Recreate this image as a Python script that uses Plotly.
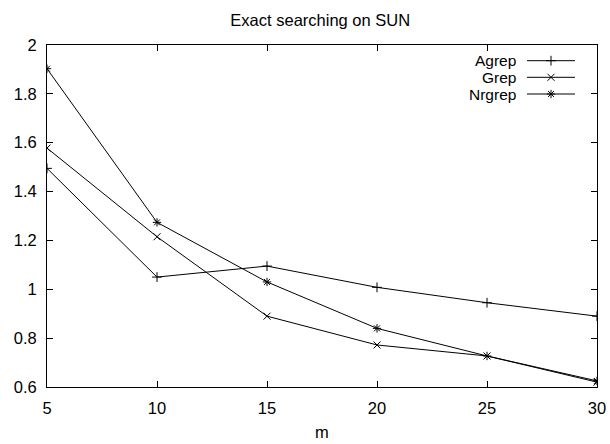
import plotly.graph_objects as go

m = [5, 10, 15, 20, 25, 30]
agrep = [1.495, 1.05, 1.095, 1.008, 0.945, 0.89]
grep = [1.578, 1.215, 0.89, 0.772, 0.727, 0.62]
nrgrep = [1.903, 1.274, 1.03, 0.84, 0.727, 0.625]

names = ["Agrep", "Grep", "Nrgrep"]
series = [agrep, grep, nrgrep]
symbols = ["cross-thin-open", "x-thin-open", "asterisk-open"]

FONT = "Liberation Sans, Arial, Helvetica, sans-serif"
FS = 16.5

fig = go.Figure()
for n, s, sym in zip(names, series, symbols):
    fig.add_trace(go.Scatter(
        x=m, y=s, mode="lines+markers", name=n,
        line=dict(color="black", width=1),
        marker=dict(symbol=sym, size=7, color="black", line=dict(color="black", width=1)),
        showlegend=False,
    ))

# gnuplot-style key (text then line sample), drawn on an overlay pixel-like axis
key_y = [60.7, 77.3, 94]
for n, sym, ky in zip(names, symbols, key_y):
    fig.add_trace(go.Scatter(
        x=[527, 575], y=[ky, ky], mode="lines", xaxis="x2", yaxis="y2",
        line=dict(color="black", width=1), showlegend=False, hoverinfo="skip",
    ))
    fig.add_trace(go.Scatter(
        x=[551], y=[ky], mode="markers", xaxis="x2", yaxis="y2",
        marker=dict(symbol=sym, size=7, color="black", line=dict(color="black", width=1)),
        showlegend=False, hoverinfo="skip",
    ))
    fig.add_annotation(x=517, y=ky, xref="x2", yref="y2", text=n, showarrow=False,
                       xanchor="right", yanchor="middle", borderpad=0,
                       font=dict(family=FONT, size=15.5, color="black"))

axis_common = dict(
    showline=True, linecolor="black", linewidth=1, mirror="ticks",
    ticks="inside", ticklen=6, tickcolor="black", tickwidth=1,
    showgrid=False, zeroline=False, automargin=False,
    tickfont=dict(family=FONT, size=FS, color="black"),
)

fig.update_layout(
    width=610, height=444,
    margin=dict(l=47, r=13, t=45, b=57),
    paper_bgcolor="white", plot_bgcolor="white",
    title=dict(text="Exact searching on SUN", x=0.525, xanchor="center", y=0.955, yanchor="middle",
               font=dict(family=FONT, size=FS, color="black")),
    xaxis=dict(range=[5, 30], tickvals=[5, 10, 15, 20, 25, 30],
               ticklabelstandoff=6, **axis_common),
    yaxis=dict(range=[0.6, 2.0], tickvals=[0.6, 0.8, 1.0, 1.2, 1.4, 1.6, 1.8, 2.0],
               ticktext=["0.6", "0.8", "1", "1.2", "1.4", "1.6", "1.8", "2"],
               ticklabelstandoff=6, **axis_common),
    xaxis2=dict(overlaying="x", range=[47, 597], visible=False, fixedrange=True),
    yaxis2=dict(overlaying="y", range=[387, 45], visible=False, fixedrange=True),
)

fig.add_annotation(x=0.5, y=-45 / 342, xref="paper", yref="paper", text="m", showarrow=False,
                   xanchor="center", yanchor="middle",
                   font=dict(family=FONT, size=FS, color="black"))

fig.write_html("out.html")
